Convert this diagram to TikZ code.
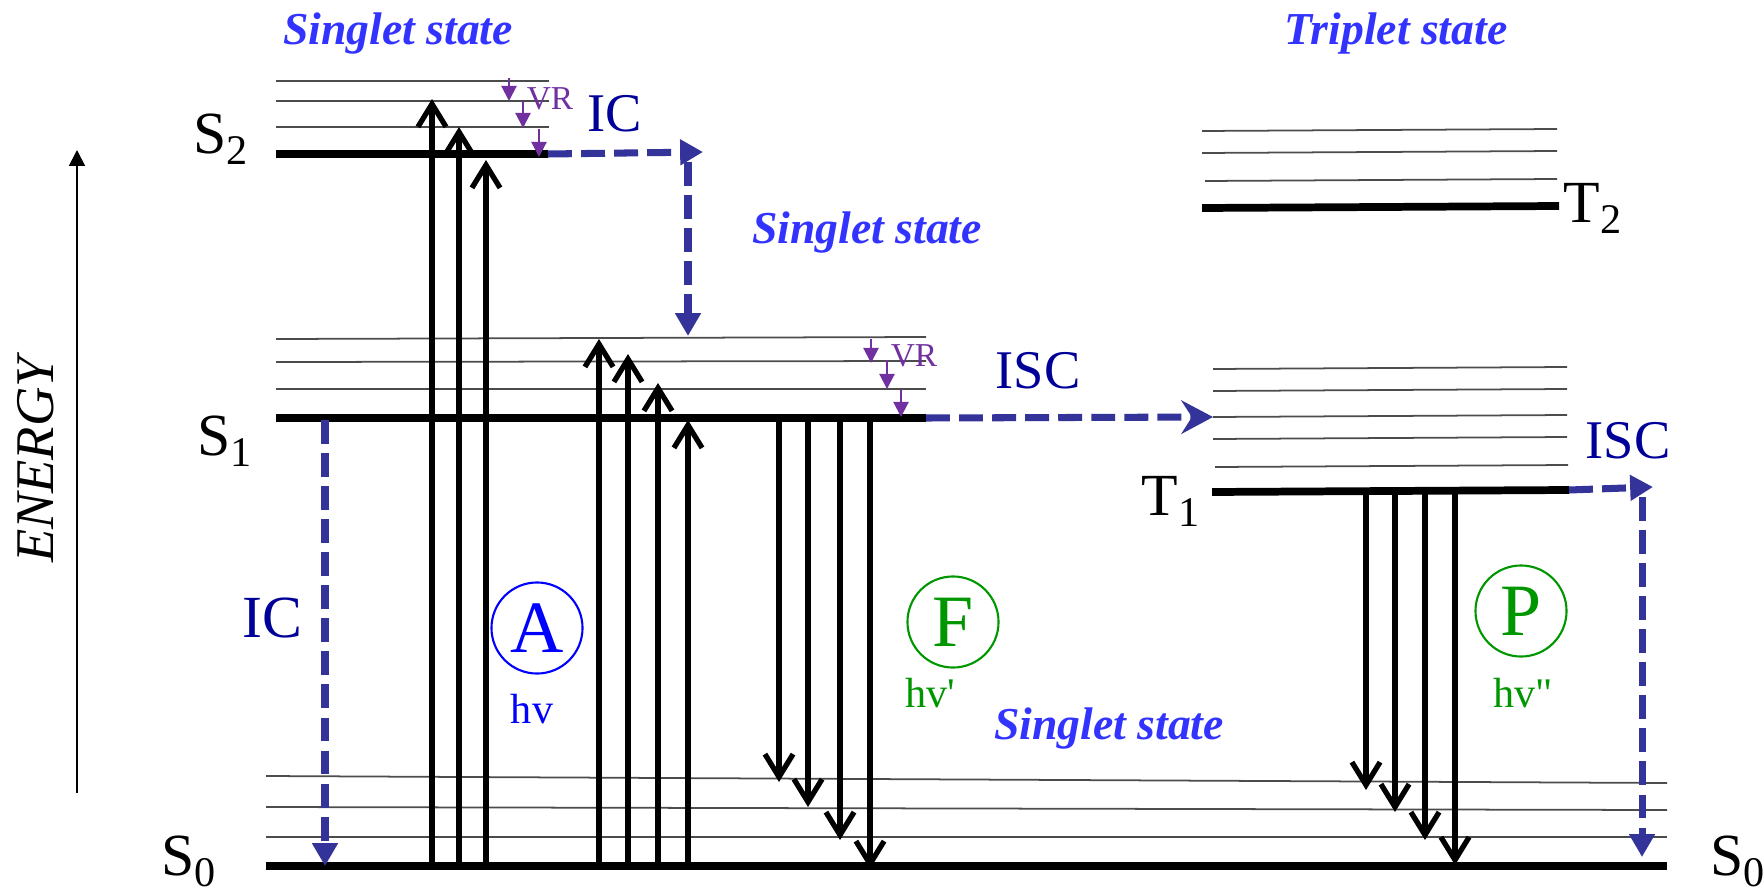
\documentclass[tikz,border=0pt]{standalone}
\usepackage{fontspec}
\setmainfont{Liberation Serif}[Ligatures=TeXOff]
\usepackage{tikz}
\usepackage{xcolor}
\usetikzlibrary{arrows.meta}
\definecolor{stateblue}{RGB}{51,51,255}
\definecolor{procnavy}{RGB}{0,0,153}
\definecolor{dashblue}{RGB}{51,51,153}
\definecolor{vrpurple}{RGB}{112,48,160}
\definecolor{absblue}{RGB}{0,0,255}
\definecolor{emitgreen}{RGB}{0,150,0}
\newcommand{\fs}[1]{\fontsize{#1pt}{#1pt}\selectfont}
\newcommand{\lvlsub}[1]{\raisebox{-3.4pt}{\fs{12}#1}}
\tikzset{
  >=Latex,
  level/.style    = {line width=2.2pt},
  vib/.style      = {line width=0.5pt, black!70},
  radarr/.style   = {line width=1.5pt, -{Straight Barb[length=6.5pt,width=8pt]}},
  trans/.style    = {dashblue, line width=2pt, dash pattern=on 6.8pt off 2.6pt, -{Triangle[length=6.5pt,width=7pt]}},
  vrarr/.style    = {vrpurple, line width=0.6pt, -{Triangle[length=4.3pt,width=4.3pt]}},
  axisarr/.style  = {line width=0.5pt, -{Triangle[length=4.5pt,width=4.5pt]}},
  lvllbl/.style   = {font={\fs{17}}, inner sep=0pt, anchor=base west},
  statelbl/.style = {font={\bfseries\itshape\fs{13}}, text=stateblue, inner sep=0pt, anchor=base},
  proclbl/.style  = {font={\fs{15.5}}, text=procnavy, inner sep=0pt, anchor=base},
  vrlbl/.style    = {font={\fs{9.5}}, text=vrpurple, inner sep=0pt, anchor=base},
  emit/.style     = {circle, draw, line width=0.6pt, minimum size=0.91cm, inner sep=0pt, font={\fs{21}}},
  hvlbl/.style    = {font={\fs{12}}, inner sep=0pt, anchor=base}
}

\begin{document}
\begin{tikzpicture}[x=0.01cm, y=-0.01cm]
\useasboundingbox (0,0) rectangle (1764,894);

% energy axis
\draw[axisarr] (77,793) -- (77,150);
\node[font={\itshape\fs{15.5}}, rotate=90, anchor=base, inner sep=0pt] (energy) at (53,460) {ENERGY};

% S0 and its vibrational levels
\draw[vib] (266,776) -- (1667,783);
\draw[vib] (266,807) -- (1667,810);
\draw[vib] (266,837) -- (1667,837);
\draw[level] (266,866) -- (1667,866);

% S1
\draw[vib] (276,339) -- (926,337);
\draw[vib] (276,362) -- (926,361);
\draw[vib] (276,389) -- (926,389);
\draw[level] (276,418) -- (926,418);

% S2
\draw[vib] (276,81) -- (549,81);
\draw[vib] (276,101) -- (549,101);
\draw[vib] (276,127) -- (549,127);
\draw[level] (276,154) -- (548,154);

% T2
\draw[vib] (1202,131) -- (1557,129);
\draw[vib] (1202,153) -- (1557,151);
\draw[vib] (1205,181) -- (1557,179);
\draw[level] (1202,208) -- (1559,206);

% T1
\draw[vib] (1213,369) -- (1567,367);
\draw[vib] (1213,391) -- (1567,389);
\draw[vib] (1213,417) -- (1567,415);
\draw[vib] (1213,439) -- (1567,437);
\draw[vib] (1215,467) -- (1568,465);
\draw[level] (1212,492) -- (1569,490);

% level names
\node[lvllbl] (S2lbl) at (193,153) {S\lvlsub{2}};
\node[lvllbl] (S1lbl) at (197,455) {S\lvlsub{1}};
\node[lvllbl] (S0lbl) at (161,875) {S\lvlsub{0}};
\node[lvllbl] (S0rlbl) at (1710,875) {S\lvlsub{0}};
\node[lvllbl] (T1lbl) at (1141,515) {T\lvlsub{1}};
\node[lvllbl] (T2lbl) at (1563,222) {T\lvlsub{2}};

% absorption
\draw[radarr] (432,866) -- (432,99);
\draw[radarr] (459,866) -- (459,127);
\draw[radarr] (486,866) -- (486,160);
\draw[radarr] (599,866) -- (599,339);
\draw[radarr] (628,866) -- (628,354);
\draw[radarr] (658,866) -- (658,383);
\draw[radarr] (688,866) -- (688,420);

% fluorescence
\draw[radarr] (779,418) -- (779,782);
\draw[radarr] (808,418) -- (808,807);
\draw[radarr] (840,418) -- (840,840);
\draw[radarr] (870,418) -- (870,869);

% phosphorescence
\draw[radarr] (1366,491) -- (1366,790);
\draw[radarr] (1395,491) -- (1395,812);
\draw[radarr] (1425,491) -- (1425,840);
\draw[radarr] (1455,491) -- (1455,865);

% vibrational relaxation
\draw[vrarr] (509,78) -- (509,101);
\draw[vrarr] (523,101) -- (523,128);
\draw[vrarr] (539,129) -- (539,157);
\draw[vrarr] (871,339) -- (871,363);
\draw[vrarr] (887,360) -- (887,389);
\draw[vrarr] (901,390) -- (901,417);

% non-radiative transitions
\draw[trans] (548,154) -- (703,152);
\draw[trans] (688,162) -- (688,336);
\draw[trans] (325,420) -- (325,866);
\draw[trans, -{Stealth[length=9pt,width=9.5pt,inset=3pt]}] (926,418) -- (1213,417);
\draw[trans] (1569,490) -- (1653,487);
\draw[trans] (1642,497) -- (1642,857);

% texts
\node[statelbl] (topState) at (398,45) {Singlet state};
\node[statelbl] (midState) at (867,243) {Singlet state};
\node[statelbl] (lowState) at (1109,739) {Singlet state};
\node[statelbl] (tripState) at (1396,45) {Triplet state};
\node[proclbl] (icTop) at (615,132) {IC};
\node[proclbl, font={\fs{17}}] (icLeft) at (272,637) {IC};
\node[proclbl] (iscMid) at (1038,388) {ISC};
\node[proclbl] (iscRight) at (1628,458) {ISC};
\node[vrlbl] (vrTop) at (550,110) {VR};
\node[vrlbl] (vrMid) at (914,366) {VR};

% emission / absorption marks
\node[emit, draw=absblue, text=absblue] (A) at (537,628) {A};
\node[hvlbl, text=absblue] (hvA) at (532,723) {hv};
\node[emit, draw=emitgreen, text=emitgreen] (F) at (953,622) {F};
\node[hvlbl, text=emitgreen] (hvF) at (930,707) {hv'};
\node[emit, draw=emitgreen, text=emitgreen] (P) at (1521,611) {P};
\node[hvlbl, text=emitgreen] (hvP) at (1523,707) {hv"};
\end{tikzpicture}
\end{document}
